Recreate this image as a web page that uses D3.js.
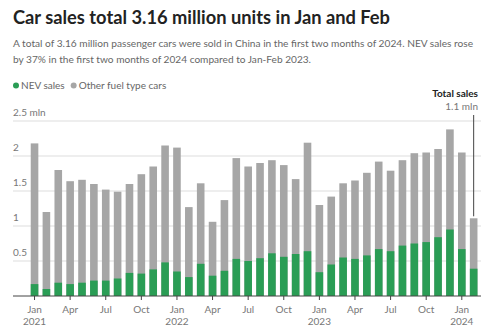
<!DOCTYPE html>
<html>
<head>
<meta charset="utf-8">
<script src="https://cdn.jsdelivr.net/npm/d3@7"></script>
<style>
  body { margin: 0; background: #fff; }
  svg { font-family: Lato, "Noto Sans", sans-serif; }
</style>
</head>
<body>
<script>
// monthly passenger car sales in China, million units (Jan 2021 - Feb 2024)
const months = [
  "2021-01","2021-02","2021-03","2021-04","2021-05","2021-06","2021-07","2021-08","2021-09","2021-10","2021-11","2021-12",
  "2022-01","2022-02","2022-03","2022-04","2022-05","2022-06","2022-07","2022-08","2022-09","2022-10","2022-11","2022-12",
  "2023-01","2023-02","2023-03","2023-04","2023-05","2023-06","2023-07","2023-08","2023-09","2023-10","2023-11","2023-12",
  "2024-01","2024-02"
]
const totalSales = [
  2.18,1.20,1.80,1.64,1.66,1.60,1.52,1.49,1.60,1.74,1.85,2.15,
  2.12,1.27,1.61,1.06,1.37,1.97,1.85,1.90,1.94,1.87,1.67,2.19,
  1.30,1.42,1.61,1.65,1.76,1.92,1.79,1.94,2.04,2.05,2.10,2.38,
  2.05,1.11
]
const nevSales = [
  0.17,0.10,0.19,0.17,0.19,0.22,0.22,0.25,0.33,0.32,0.38,0.48,
  0.35,0.27,0.46,0.29,0.36,0.53,0.50,0.54,0.61,0.56,0.60,0.64,
  0.34,0.45,0.55,0.53,0.58,0.67,0.64,0.72,0.75,0.77,0.84,0.95,
  0.67,0.39
]
const yTicks = [0.5, 1, 1.5, 2, 2.5]
const monthNames = ["Jan","Feb","Mar","Apr","May","Jun","Jul","Aug","Sep","Oct","Nov","Dec"]

const width = 485, height = 334
const margin = { top: 121, right: 6, bottom: 38, left: 13 }

const svg = d3.select("body").append("svg")
  .attr("width", width)
  .attr("height", height)

// titles (squeezed a bit to match the narrow original face)
svg.append("text")
  .attr("x", 13).attr("y", 24)
  .attr("font-size", 19).attr("font-weight", 700).attr("fill", "#222")
  .attr("textLength", 377).attr("lengthAdjust", "spacingAndGlyphs")
  .text("Car sales total 3.16 million units in Jan and Feb")

const sub = svg.append("text")
  .attr("font-size", 10.4).attr("fill", "#666")
sub.append("tspan").attr("x", 13).attr("y", 47)
  .attr("textLength", 460).attr("lengthAdjust", "spacingAndGlyphs")
  .text("A total of 3.16 million passenger cars were sold in China in the first two months of 2024. NEV sales rose")
sub.append("tspan").attr("x", 13).attr("y", 63)
  .attr("textLength", 298).attr("lengthAdjust", "spacingAndGlyphs")
  .text("by 37% in the first two months of 2024 compared to Jan-Feb 2023.")

// legend
const legend = [
  { label: "NEV sales", color: "#2a9d55" },
  { label: "Other fuel type cars", color: "#a6a6a6" }
]
let lx = 16
legend.forEach(l => {
  svg.append("circle").attr("cx", lx).attr("cy", 85.5).attr("r", 3).attr("fill", l.color)
  const t = svg.append("text").attr("x", lx + 5).attr("y", 89).attr("font-size", 10).attr("fill", "#666").text(l.label)
  lx += t.node().getComputedTextLength() + 14
})

const x = d3.scaleBand()
  .domain(months)
  .range([28.6, 479.6])
  .paddingInner(0.36)
  .paddingOuter(0.18)

const y = d3.scaleLinear()
  .domain([0, 2.5])
  .range([height - margin.bottom, margin.top])

// gridlines + y labels
const grid = svg.append("g")
grid.selectAll("line")
  .data(yTicks)
  .enter()
  .append("line")
  .attr("x1", 13).attr("x2", 481)
  .attr("y1", d => y(d)).attr("y2", d => y(d))
  .attr("stroke", "#ddd")
  .attr("stroke-width", 1)
grid.selectAll("text")
  .data(yTicks)
  .enter()
  .append("text")
  .attr("x", 13)
  .attr("y", d => y(d) - 5)
  .attr("font-size", 10)
  .attr("fill", "#777")
  .text(d => d === 2.5 ? "2.5 mln" : d)

const rows = months.map((m, i) => ({ m, total: totalSales[i], nev: nevSales[i] }))

// other fuel (full bar), then NEV on top of it
svg.append("g").selectAll("rect")
  .data(rows)
  .enter()
  .append("rect")
  .attr("x", d => x(d.m))
  .attr("width", x.bandwidth())
  .attr("y", d => y(d.total))
  .attr("height", d => y(0) - y(d.total))
  .attr("fill", "#a6a6a6")

svg.append("g").selectAll("rect")
  .data(rows)
  .enter()
  .append("rect")
  .attr("x", d => x(d.m))
  .attr("width", x.bandwidth())
  .attr("y", d => y(d.nev))
  .attr("height", d => y(0) - y(d.nev))
  .attr("fill", "#2a9d55")

// x axis
const xAxisG = svg.append("g")
xAxisG.append("line")
  .attr("x1", 13).attr("x2", 481)
  .attr("y1", y(0)).attr("y2", y(0))
  .attr("stroke", "#444")
const tickMonths = months.filter(m => ["01","04","07","10"].includes(m.slice(5)))
xAxisG.selectAll(".tick")
  .data(tickMonths)
  .enter()
  .append("line")
  .attr("x1", d => x(d) + x.bandwidth() / 2)
  .attr("x2", d => x(d) + x.bandwidth() / 2)
  .attr("y1", y(0)).attr("y2", y(0) + 4)
  .attr("stroke", "#444")
const tl = xAxisG.selectAll(".lbl")
  .data(tickMonths)
  .enter()
  .append("text")
  .attr("text-anchor", "middle")
  .attr("font-size", 10)
  .attr("fill", "#777")
tl.append("tspan")
  .attr("x", d => x(d) + x.bandwidth() / 2)
  .attr("y", 313)
  .text(d => monthNames[+d.slice(5) - 1])
tl.filter(d => d.slice(5) === "01").append("tspan")
  .attr("x", d => x(d) + x.bandwidth() / 2)
  .attr("y", 325)
  .text(d => d.slice(0, 4))

// annotation on last bar
const last = rows[rows.length - 1]
const ax = x(last.m) + x.bandwidth() / 2
svg.append("line")
  .attr("x1", ax).attr("x2", ax)
  .attr("y1", 115).attr("y2", y(last.total) - 2)
  .attr("stroke", "#444")
svg.append("text")
  .attr("x", 478).attr("y", 97)
  .attr("text-anchor", "end")
  .attr("font-size", 10).attr("font-weight", 700).attr("fill", "#222")
  .text("Total sales")
svg.append("text")
  .attr("x", 478).attr("y", 110)
  .attr("text-anchor", "end")
  .attr("font-size", 10).attr("fill", "#777")
  .text(d3.format(".1f")(last.total) + " mln")
</script>
</body>
</html>
